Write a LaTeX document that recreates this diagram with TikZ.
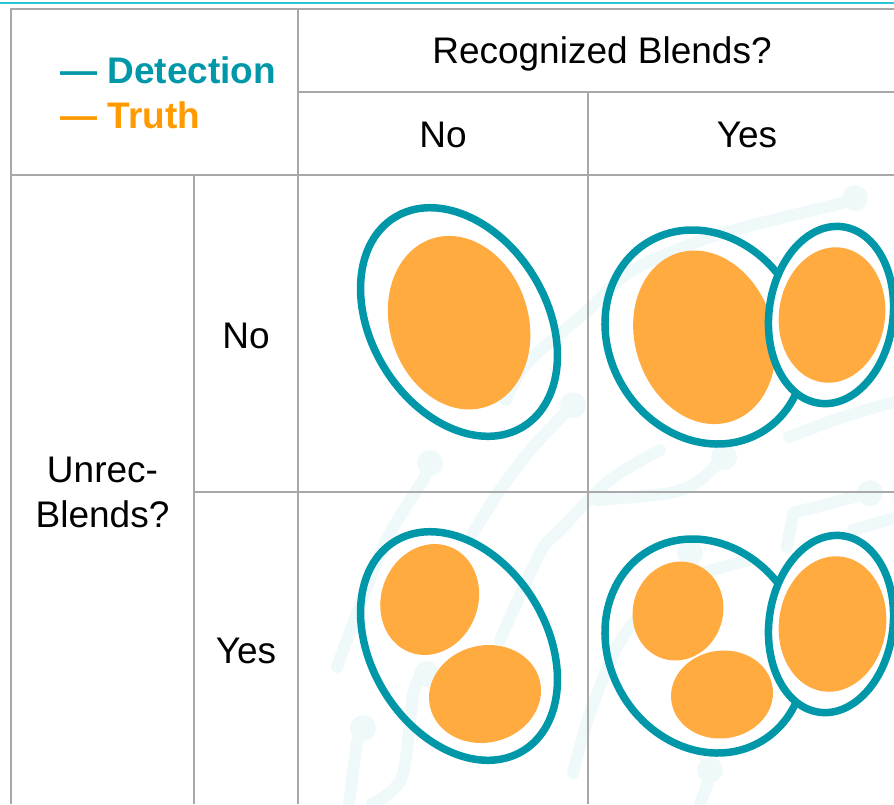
\documentclass[tikz,border=0pt]{standalone}
\usepackage{fontspec}
\setmainfont{Liberation Sans}
\definecolor{gridgray}{HTML}{A8A8A8}
\definecolor{topcyan}{HTML}{2CC5D8}
\definecolor{ringteal}{HTML}{0098A8}
\definecolor{blobora}{HTML}{FFAB40}
\definecolor{truthora}{HTML}{FF9A00}
\definecolor{decocol}{HTML}{F0F9FA}
\begin{document}
\begin{tikzpicture}[x=1pt,y=1pt,
  grid/.style={draw=gridgray,line width=2pt},
  ring/.style={draw=ringteal,line width=7.5pt},
  blob/.style={fill=blobora},
  deco/.style={draw=decocol,line width=12pt,line cap=round,line join=round},
  lbl/.style={anchor=base,inner sep=0pt,font=\fontsize{37}{45}\selectfont},
  lgd/.style={anchor=base west,inner sep=0pt,font=\bfseries\fontsize{37}{45}\selectfont}]
\useasboundingbox (0,0) rectangle (894,-804);

% faint background tracks
\begin{scope}
  \draw[deco] plot[smooth] coordinates {(855,-198) (842,-203) (717,-235) (633,-270) (588,-310) (527,-363) (506,-400)};
  \fill[decocol] (855,-198) circle (13);
  \draw[deco] plot[smooth] coordinates {(573,-405) (533,-447) (500,-490) (473,-533)};
  \fill[decocol] (573,-405) circle (13);
  \draw[deco] plot[smooth] coordinates {(430,-463) (423,-480) (383,-547) (337,-667)};
  \fill[decocol] (430,-463) circle (13);
  \draw[deco] plot[smooth] coordinates {(789,-437) (840,-418) (894,-402)};
  \draw[deco] plot[smooth] coordinates {(724,-457) (700,-480) (670,-493) (597,-500)};
  \fill[decocol] (724,-457) circle (13);
  \draw[deco] plot[smooth] coordinates {(660,-450) (610,-480) (560,-530) (540,-553) (500,-640)};
  \draw[deco] plot coordinates {(870,-493) (793,-513) (787,-547)};
  \fill[decocol] (870,-493) circle (13);
  \draw[deco] plot[smooth] coordinates {(853,-530) (894,-518)};
  \draw[deco] plot[smooth] coordinates {(427,-674) (414,-690) (402,-777) (372,-804)};
  \fill[decocol] (427,-674) circle (13);
  \draw[deco] plot[smooth] coordinates {(363,-728) (357,-743) (349,-804)};
  \fill[decocol] (363,-728) circle (13);
  \draw[deco] plot[smooth] coordinates {(710,-770) (707,-785) (700,-804)};
  \fill[decocol] (710,-770) circle (13);
  \draw[deco] plot[smooth] coordinates {(573,-773) (590,-713) (617,-647) (643,-613) (693,-577) (750,-560)};
  \fill[decocol] (690,-553) circle (13);
\end{scope}

% top rule
\draw[topcyan,line width=2.5pt] (0,-3) -- (894,-3);

% table grid
\draw[grid] (11,-804) -- (11,-9) -- (894,-9);
\draw[grid] (298,-9) -- (298,-804);
\draw[grid] (298,-92) -- (894,-92);
\draw[grid] (588,-92) -- (588,-804);
\draw[grid] (11,-175) -- (894,-175);
\draw[grid] (194,-175) -- (194,-804);
\draw[grid] (194,-492) -- (894,-492);

% legend
\node[lgd,text=ringteal] (legdet) at (60,-83) {— Detection};
\node[lgd,text=truthora] (legtru) at (60,-128) {— Truth};

% headers
\node[lbl] (rechead) at (602,-63) {Recognized Blends?};
\node[lbl] (recno) at (443,-147) {No};
\node[lbl] (recyes) at (747,-147) {Yes};
\node[lbl] (unrec) at (102.5,-482) {Unrec-};
\node[lbl] (unrecb) at (102.5,-527) {Blends?};
\node[lbl] (unno) at (246,-348) {No};
\node[lbl] (unyes) at (246,-663) {Yes};

% cell: no / no
\draw[ring] (459,-322) ellipse [x radius=87.6, y radius=122.8, rotate=31.5];
\fill[blob] (459.1,-322.7) ellipse [x radius=69.3, y radius=88.3, rotate=17.6];

% cell: no unrecognised / yes recognised
\draw[ring] (705,-337) ellipse [x radius=95.9, y radius=110.7, rotate=30.9];
\fill[blob] (704.4,-337.3) ellipse [x radius=69.3, y radius=88.3, rotate=17.6];
\filldraw[ring,fill=white] (831,-315) ellipse [x radius=62, y radius=89, rotate=-7.5];
\fill[blob] (832,-315) ellipse [x radius=53, y radius=68, rotate=-8];

% cell: yes unrecognised / no recognised
\draw[ring] (459,-646) ellipse [x radius=87.6, y radius=122.8, rotate=31.5];
\fill[blob] (429.7,-599.5) ellipse [x radius=48.4, y radius=56.4, rotate=-20.7];
\fill[blob] (485,-694) ellipse [x radius=56.4, y radius=48.5, rotate=14];

% cell: yes / yes
\draw[ring] (705,-646) ellipse [x radius=95.9, y radius=110.7, rotate=30.9];
\fill[blob] (678,-611) ellipse [x radius=45, y radius=49.9, rotate=-17.6];
\fill[blob] (722,-694.5) ellipse [x radius=51.1, y radius=43.9, rotate=7.4];
\filldraw[ring,fill=white] (831,-624) ellipse [x radius=62, y radius=89, rotate=-7.5];
\fill[blob] (832.5,-624) ellipse [x radius=53.5, y radius=68, rotate=-8];
\end{tikzpicture}
\end{document}
